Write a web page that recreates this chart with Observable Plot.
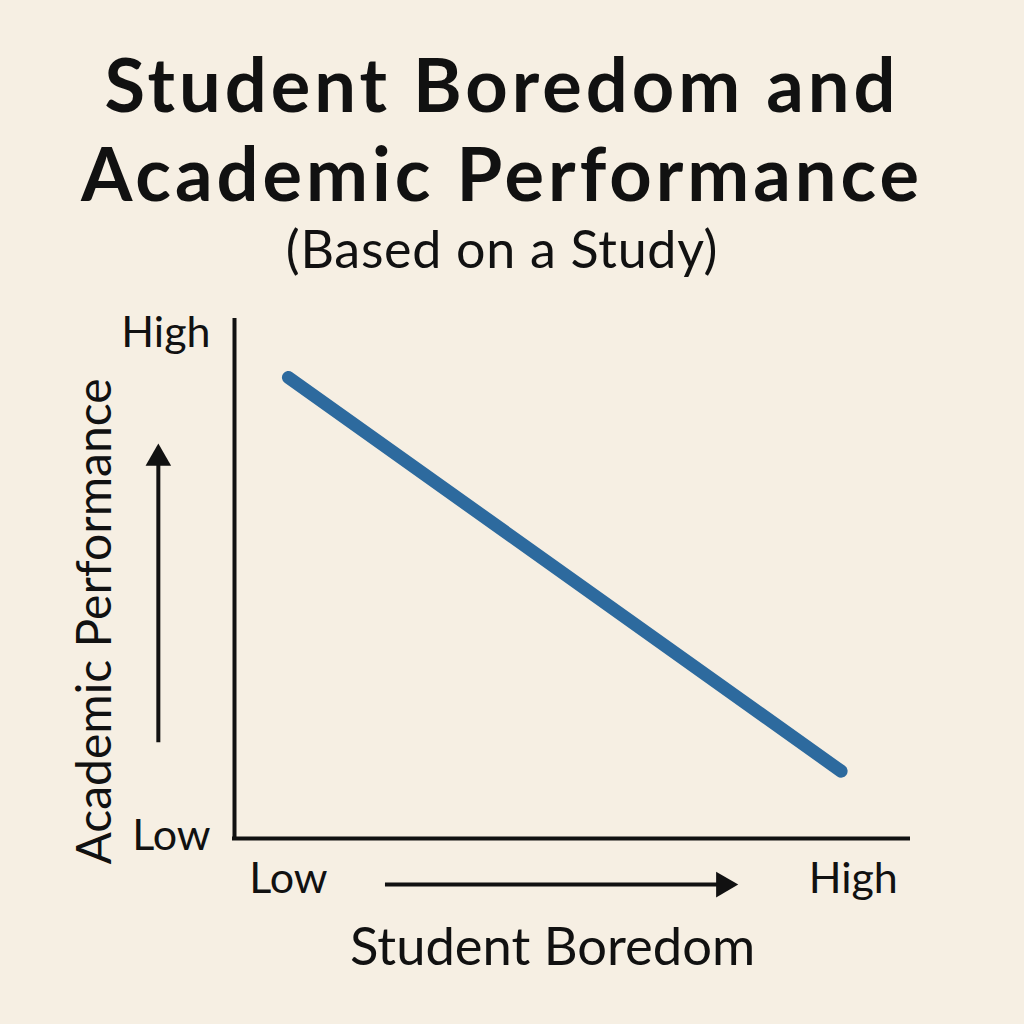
<!DOCTYPE html>
<html><head><meta charset="utf-8">
<script src="https://cdn.jsdelivr.net/npm/d3@7"></script>
<script src="https://cdn.jsdelivr.net/npm/@observablehq/plot@0.6"></script>
<style>
html,body{margin:0;padding:0;background:#f6efe3;}
#wrap{width:1024px;height:1024px;overflow:hidden;font-family:Lato,"Noto Sans",sans-serif;color:#111;}
#title{height:300px;box-sizing:border-box;padding-top:39px;padding-right:20px;text-align:center;}
h1{margin:0;font-size:74px;line-height:89px;font-weight:700;letter-spacing:4px;}
h2{margin:0;font-size:52px;line-height:62px;font-weight:400;letter-spacing:0.7px;}
svg{display:block}
</style></head><body>
<div id="wrap"><div id="title"><h1>Student Boredom and<br>Academic Performance</h1><h2>(Based on a Study)</h2></div><div id="chart"></div></div>
<script>
// Data (normalised 0..1 on both axes)
const boredom = [0.08, 0.90];
const performance = [0.89, 0.13];
const yTickValues = [0, 1];
const yTickLabels = ["Low", "High"];
const xTickValues = [0.08, 0.918];
const xTickLabels = ["Low", "High"];
const xAxisTitle = "Student Boredom";
const yAxisTitle = "Academic Performance";
// decorative direction arrows (data space)
const xArrowY = -0.089, xArrowFrom = 0.224, xArrowTo = 0.7255;
const yArrowX = -0.113, yArrowFrom = 0.185, yArrowTo = 0.734;

const points = boredom.map((b, i) => ({boredom: b, performance: performance[i]}));
const ink = "#111";

const chart = Plot.plot({
  width: 1024,
  height: 724,
  marginLeft: 234,
  marginRight: 116,
  marginTop: 20,
  marginBottom: 186,
  x: {domain: [0, 1], axis: null},
  y: {domain: [0, 1], axis: null},
  style: {background: "transparent", fontFamily: "Lato, Noto Sans, sans-serif", color: ink, overflow: "visible"},
  marks: [
    Plot.ruleX([0], {y1: 0, y2: 1, stroke: ink, strokeWidth: 4, strokeLinecap: "square"}),
    Plot.ruleY([0], {x1: 0, x2: 1, stroke: ink, strokeWidth: 4, strokeLinecap: "square"}),
    Plot.line(points, {x: "boredom", y: "performance", stroke: "#2d6a9e", strokeWidth: 13, strokeLinecap: "round"}),
    // y tick labels
    Plot.text([yTickLabels[1]], {y: yTickValues[1], frameAnchor: "left", textAnchor: "end", dx: -24, dy: 13, text: d => d, fontSize: 43, fill: ink}),
    Plot.text([yTickLabels[0]], {y: yTickValues[0], frameAnchor: "left", textAnchor: "end", dx: -24, dy: -2, text: d => d, fontSize: 43, fill: ink}),
    // x tick labels
    Plot.text(xTickLabels, {x: (d, i) => xTickValues[i], frameAnchor: "bottom", dy: 54, text: d => d, fontSize: 43, fill: ink}),
    // axis titles
    Plot.text([xAxisTitle], {x: 0.472, frameAnchor: "bottom", dy: 126, text: d => d, fontSize: 52.5, fill: ink}),
    Plot.text([yAxisTitle], {x: -0.206, y: 0.419, rotate: -90, text: d => d, fontSize: 48, fill: ink}),
    // arrows
    Plot.ruleY([xArrowY], {x1: xArrowFrom, x2: xArrowTo, stroke: ink, strokeWidth: 4}),
    Plot.dot([xArrowTo], {x: d => d, y: xArrowY, symbol: "triangle", r: 9.5, fill: ink, stroke: "none", rotate: 90}),
    Plot.ruleX([yArrowX], {y1: yArrowFrom, y2: yArrowTo, stroke: ink, strokeWidth: 4}),
    Plot.dot([yArrowTo], {y: d => d, x: yArrowX, symbol: "triangle", r: 9.5, fill: ink, stroke: "none"})
  ]
});
document.getElementById("chart").appendChild(chart);
</script>
</body></html>
